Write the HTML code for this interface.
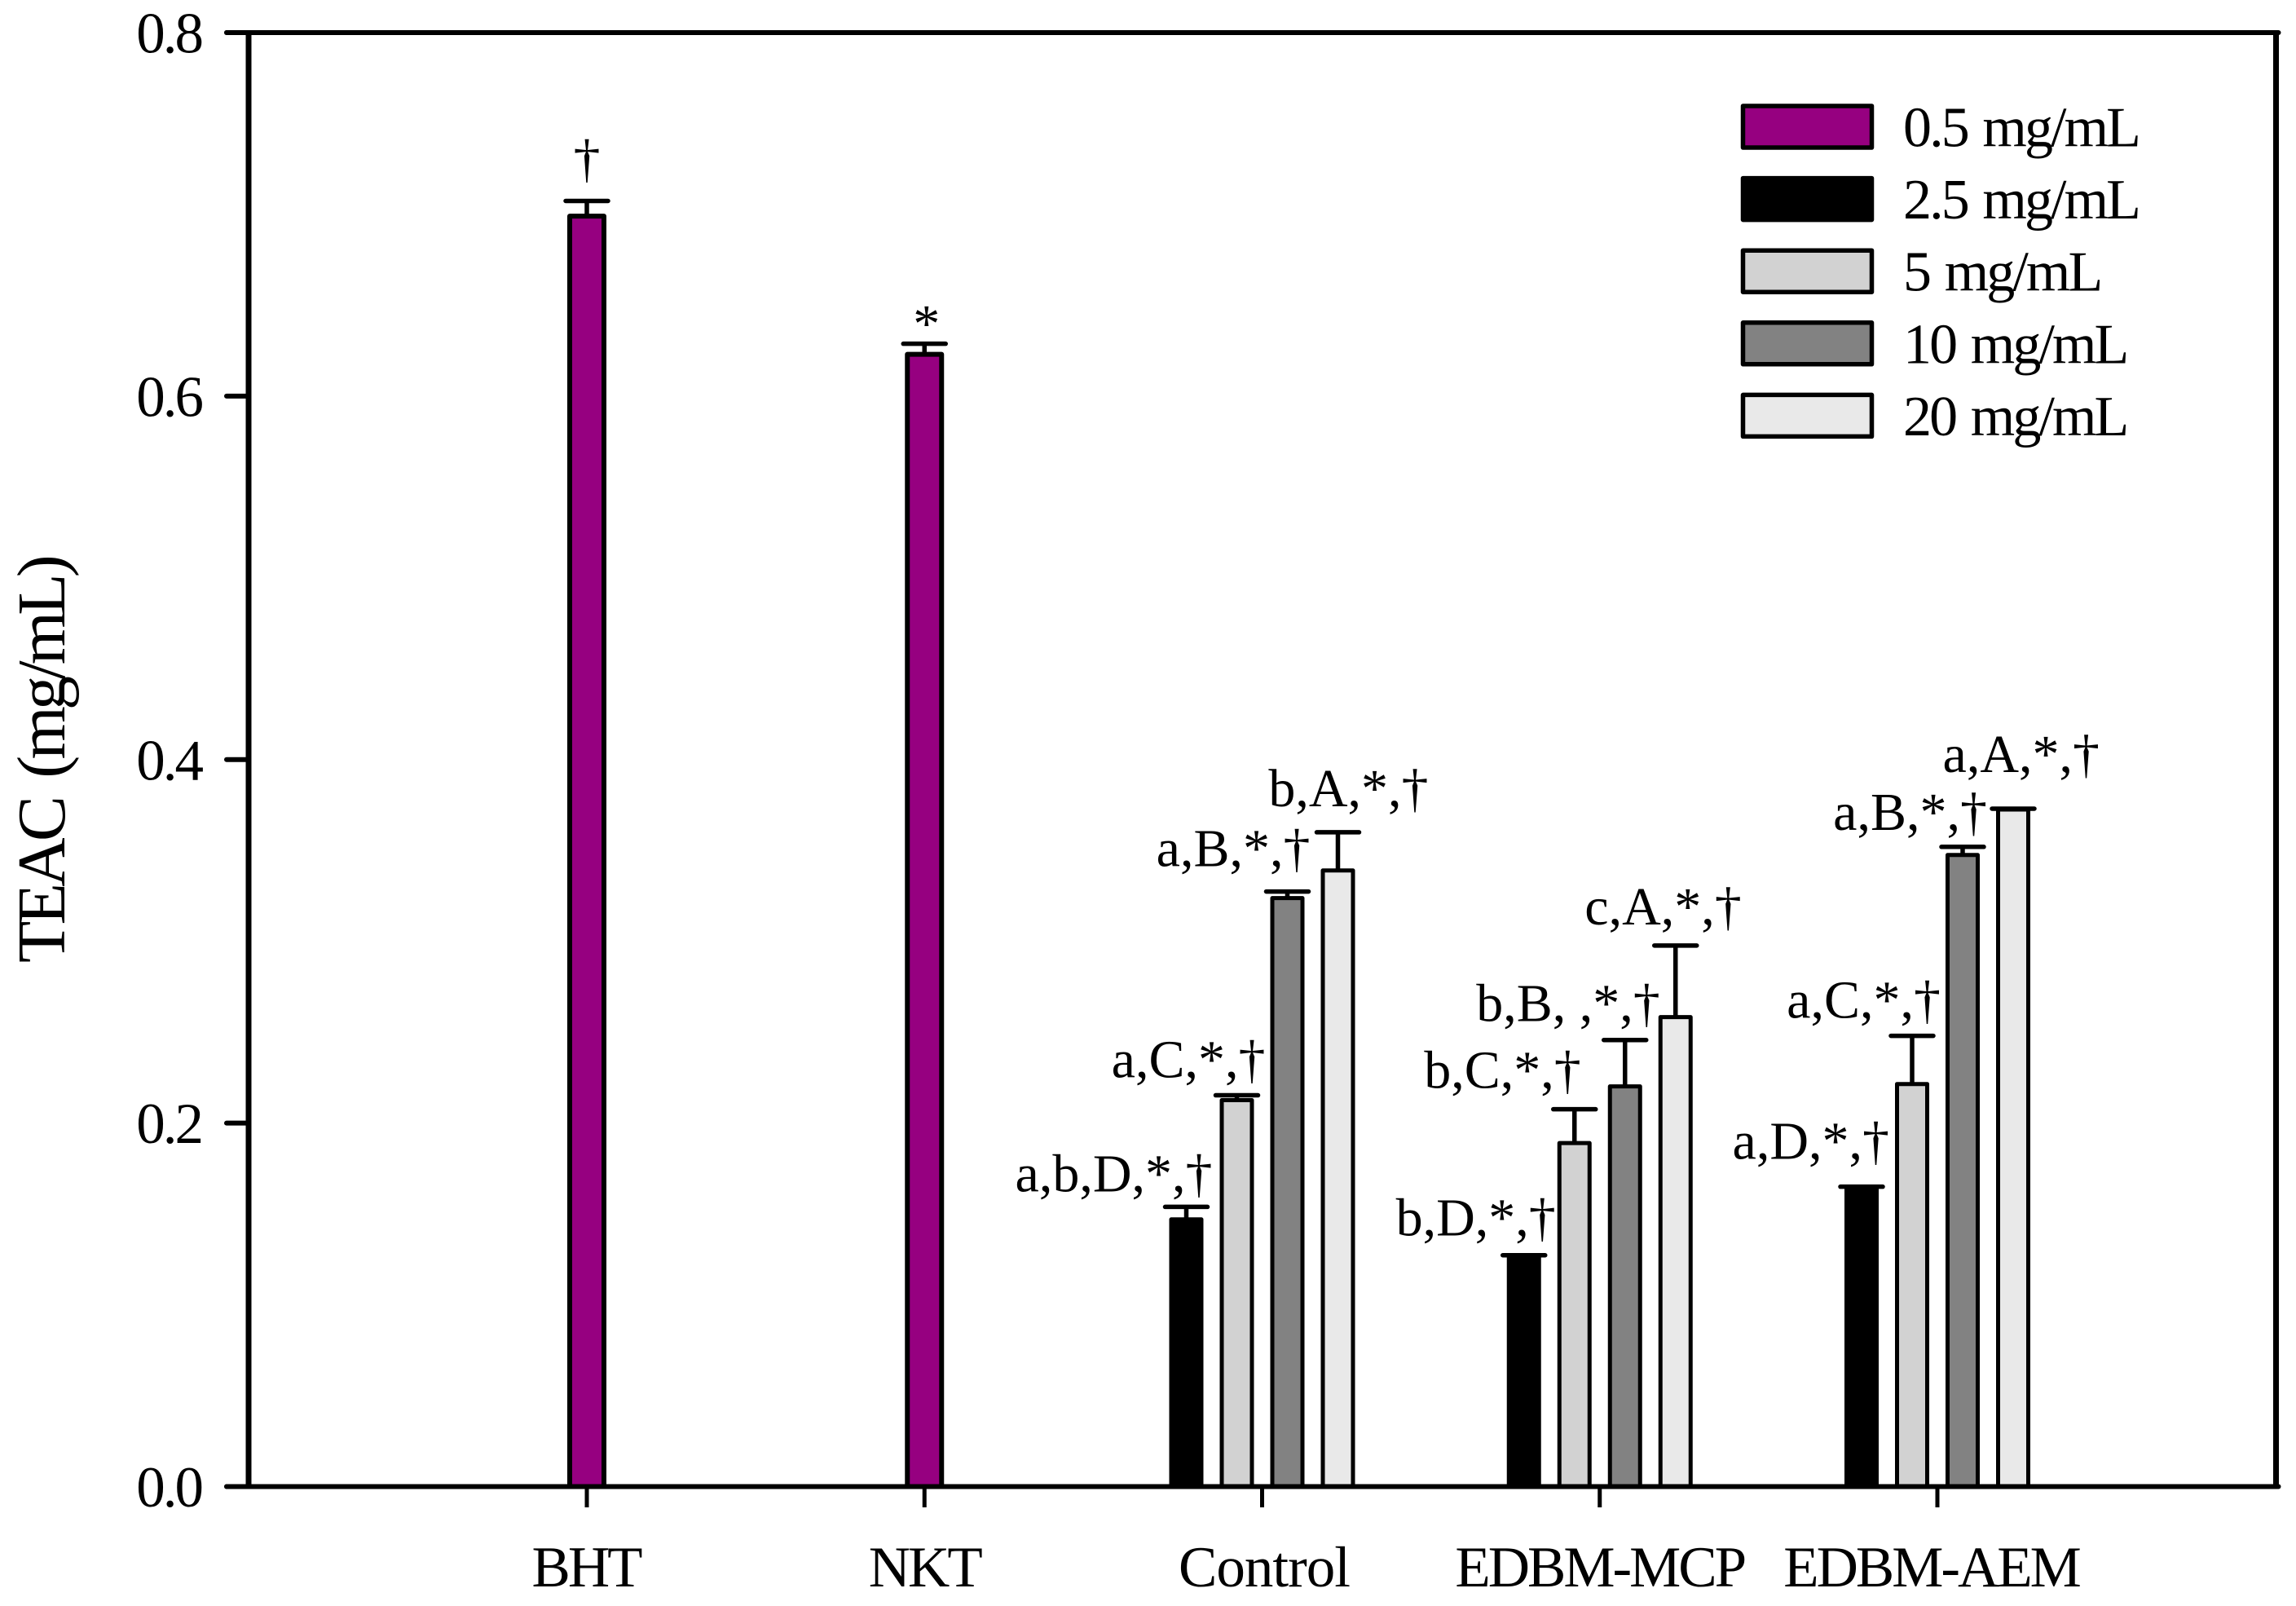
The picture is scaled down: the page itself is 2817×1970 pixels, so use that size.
<!DOCTYPE html>
<html lang="en">
<head>
<meta charset="utf-8">
<title>TEAC bar chart</title>
<style>
  html, body { margin: 0; padding: 0; background: #fff; }
  body { width: 2817px; height: 1970px; overflow: hidden; }
  svg { display: block; }
  text { font-family: "Liberation Serif", "Times New Roman", serif; fill: #000; }
</style>
</head>
<body>
<svg id="chart" xmlns="http://www.w3.org/2000/svg" width="2817" height="1970" viewBox="0 0 2817 1970"></svg>
<script>
// ---------- data ----------
const categories = ['BHT', 'NKT', 'Control', 'EDBM-MCP', 'EDBM-AEM'];
const seriesNames = ['0.5 mg/mL', '2.5 mg/mL', '5 mg/mL', '10 mg/mL', '20 mg/mL'];
const yTickLabels = ['0.0', '0.2', '0.4', '0.6', '0.8'];

const values05 = [0.699, 0.623, null, null, null];
const values25 = [null, null, 0.147, 0.126, 0.164];
const values5 = [null, null, 0.2126, 0.189, 0.2215];
const values10 = [null, null, 0.3238, 0.2202, 0.3475];
const values20 = [null, null, 0.339, 0.2583, 0.3725];

const errors05 = [0.0084, 0.0058, null, null, null];
const errors25 = [null, null, 0.0069, 0.0013, 0.001];
const errors5 = [null, null, 0.0027, 0.0186, 0.0265];
const errors10 = [null, null, 0.0036, 0.0255, 0.0045];
const errors20 = [null, null, 0.021, 0.0394, 0.0005];

const notes05 = ['†', '*', null, null, null];
const notes25 = [null, null, 'a,b,D,*,†', 'b,D,*,†', 'a,D,*,†'];
const notes5 = [null, null, 'a,C,*,†', 'b,C,*,†', 'a,C,*,†'];
const notes10 = [null, null, 'a,B,*,†', 'b,B, ,*,†', 'a,B,*,†'];
const notes20 = [null, null, 'b,A,*,†', 'c,A,*,†', 'a,A,*,†'];

// ---------- styling / layout (not data) ----------
const fills = ['#960080', '#000000', '#d2d2d2', '#828282', '#e9e9e9'];
const plot = { left: 305, right: 2792.5, top: 40, bottom: 1823.5 };
const yMax = 0.8;
// label placement relative to each bar: [end-of-text offset from bar centre, gap above error cap]
const noteNudge = [
  [[16.5, 30], [19, 2.5], null, null, null],
  [null, null, [32, 18.7], [39, 24], [34, 34]],
  [null, null, [35, 22], [8, 26], [35, 22]],
  [null, null, [28, 31], [43, 23], [30, 21]],
  [null, null, [111, 31.7], [81, 26], [106, 45]]
];
const xLabelNudge = [-1, 0, 2.5, 0, -7.5];
const xLabelSpacing = [-3, -3, -1, -3, -3];

// ---------- axis functions ----------
function yScale(v) { return plot.bottom - (v / yMax) * (plot.bottom - plot.top); }
function xTick(i) { return 720 + i * 414.25; }

const allValues = [values05, values25, values5, values10, values20];
const allErrors = [errors05, errors25, errors5, errors10, errors20];
const allNotes = [notes05, notes25, notes5, notes10, notes20];

const svg = document.getElementById('chart');
const NS = 'http://www.w3.org/2000/svg';
function make(tag, attrs, parent) {
  const el = document.createElementNS(NS, tag);
  for (const k in attrs) el.setAttribute(k, attrs[k]);
  (parent || svg).appendChild(el);
  return el;
}
function slug(s) { return s.toLowerCase().replace(/[^a-z0-9]+/g, '-'); }

// ---------- bars ----------
categories.forEach(function (cat, g) {
  const present = [];
  allValues.forEach(function (arr, s) { if (arr[g] !== null) present.push(s); });
  const alone = present.length === 1;
  const barW = alone ? 42 : 37;
  const stroke = alone ? 6 : 5;
  present.forEach(function (s, pos) {
    const cx = xTick(g) + (pos - (present.length - 1) / 2) * 62;
    const v = allValues[s][g];
    const e = allErrors[s][g];
    const yTop = yScale(v);
    const yCap = yScale(v + e);

    const stem = make('line', { x1: cx, x2: cx, y1: yTop, y2: yCap, stroke: '#000', 'stroke-width': 5.5 });
    
    

    const cap = make('line', { x1: cx - 26, x2: cx + 26, y1: yCap, y2: yCap, stroke: '#000', 'stroke-width': 5.5, 'stroke-linecap': 'round' });
    
    

    const bar = make('rect', { x: cx - barW / 2, y: yTop, width: barW, height: yScale(0) - yTop, fill: fills[s], stroke: '#000', 'stroke-width': stroke, 'stroke-linejoin': 'round' });
    
    

    const nudge = noteNudge[s][g];
    const note = make('text', { x: cx + nudge[0], y: yCap - nudge[1], 'font-size': 66, 'text-anchor': 'end' });
    note.textContent = allNotes[s][g];
    
    
  });
});

// ---------- axes ----------
const frame = make('path', {
  d: 'M' + plot.left + ' ' + plot.bottom + 'V' + plot.top + 'M' + plot.right + ' ' + plot.bottom + 'V' + plot.top,
  fill: 'none', stroke: '#000', 'stroke-width': 7
});



const topAxis = make('line', { x1: 278, x2: plot.right + 3, y1: plot.top, y2: plot.top, stroke: '#000', 'stroke-width': 6, 'stroke-linecap': 'round' });



const bottomAxis = make('line', { x1: 278, x2: plot.right + 3, y1: plot.bottom, y2: plot.bottom, stroke: '#000', 'stroke-width': 6, 'stroke-linecap': 'round' });



yTickLabels.forEach(function (label) {
  const y = yScale(parseFloat(label));
  const t = make('line', { x1: 278, x2: plot.left, y1: y, y2: y, stroke: '#000', 'stroke-width': 6, 'stroke-linecap': 'round' });
  
  
  const txt = make('text', { x: 247, y: y + 24.5, 'font-size': 71, 'text-anchor': 'end', 'letter-spacing': -3 });
  txt.textContent = label;
  
  
});

categories.forEach(function (cat, g) {
  const x = xTick(g);
  const t = make('line', { x1: x, x2: x, y1: plot.bottom, y2: 1849, stroke: '#000', 'stroke-width': 5 });
  
  
  const txt = make('text', { x: x + xLabelNudge[g], y: 1946, 'font-size': 71, 'text-anchor': 'middle', 'letter-spacing': xLabelSpacing[g] });
  txt.textContent = cat;
  
  
});

const yTitle = make('text', { transform: 'translate(79 1181) rotate(-90)', x: 0, y: 0, 'font-size': 84, 'letter-spacing': -4.8, 'word-spacing': 10 });
yTitle.textContent = 'TEAC (mg/mL)';



// ---------- legend ----------
const legend = make('g', {});


seriesNames.forEach(function (name, i) {
  const top = 130 + i * 88.6;
  const swatch = make('rect', { x: 2138.5, y: top, width: 158, height: 51, fill: fills[i], stroke: '#000', 'stroke-width': 5.5, 'stroke-linejoin': 'round' }, legend);
  
  
  const txt = make('text', { x: 2335, y: top + 49.5, 'font-size': 70, 'letter-spacing': -2.9, 'word-spacing': 4 }, legend);
  txt.textContent = name;
  
  
});
</script>
</body>
</html>
